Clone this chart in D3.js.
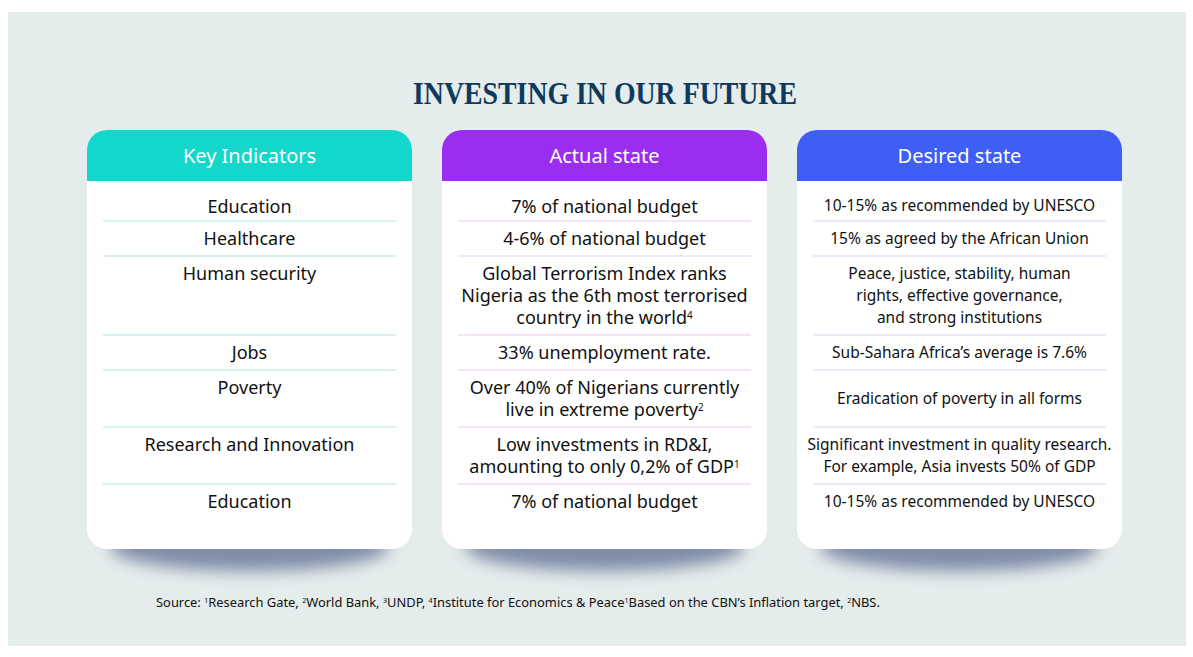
<!DOCTYPE html>
<html>
<head>
<meta charset="utf-8">
<script src="https://cdn.jsdelivr.net/npm/d3@7"></script>
<style>
  body { margin: 0; background: #fff; }
  svg { display: block; }
</style>
</head>
<body>
<div class="container"></div>
<script>
// column headers + colours
var headers = ["Key Indicators", "Actual state", "Desired state"];
var headerColors = ["#13d7cb", "#9b2df0", "#3f5ef5"];
var dividerColors = ["#c9ecea", "#eedcf7", "#dfe4fb"];

// table contents, one entry per row (lines split as in the picture)
var indicators = [
  ["Education"],
  ["Healthcare"],
  ["Human security"],
  ["Jobs"],
  ["Poverty"],
  ["Research and Innovation"],
  ["Education"]
];
var actualState = [
  ["7% of national budget"],
  ["4-6% of national budget"],
  ["Global Terrorism Index ranks", "Nigeria as the 6th most terrorised", "country in the world|4"],
  ["33% unemployment rate."],
  ["Over 40% of Nigerians currently", "live in extreme poverty|2"],
  ["Low investments in RD&I,", "amounting to only 0,2% of GDP|1"],
  ["7% of national budget"]
];
var desiredState = [
  ["10-15% as recommended by UNESCO"],
  ["15% as agreed by the African Union"],
  ["Peace, justice, stability, human", "rights, effective governance,", "and strong institutions"],
  ["Sub-Sahara Africa\u2019s average is 7.6%"],
  ["Eradication of poverty in all forms"],
  ["Significant investment in quality research.", "For example, Asia invests 50% of GDP"],
  ["10-15% as recommended by UNESCO"]
];
var title = "INVESTING IN OUR FUTURE";
var source = "Source: |1|Research Gate, |2|World Bank, |3|UNDP, |4|Institute for Economics & Peace|1|Based on the CBN\u2019s Inflation target, |2|NBS.";

var W = 1193, H = 657;
var svg = d3.select('.container').append('svg').attr('width', W).attr('height', H);

var defs = svg.append('defs');
defs.append('filter').attr('id', 'blur')
  .attr('x', '-50%').attr('y', '-100%').attr('width', '200%').attr('height', '300%')
  .append('feGaussianBlur').attr('stdDeviation', 8);

// panel
svg.append('rect').attr('x', 8).attr('y', 12).attr('width', 1178).attr('height', 634).attr('fill', '#e5ecec');

svg.append('text')
  .attr('x', 605).attr('y', 104)
  .attr('text-anchor', 'middle')
  .attr('font-family', 'Liberation Serif, serif')
  .attr('font-weight', 'bold')
  .attr('font-size', 31)
  .attr('textLength', 384).attr('lengthAdjust', 'spacingAndGlyphs')
  .attr('fill', '#0e3a5e')
  .text(title);

var cardX = d3.scaleBand().domain(d3.range(3)).range([87, 1122]).paddingInner(30 / 355).paddingOuter(0);
var cardTop = 130, headH = 51, cardBottom = 549, radius = 20;
var lineH = 22;
var cols = [indicators, actualState, desiredState];
var font = 'Noto Sans, Open Sans, sans-serif';

// row heights from line counts
var rowTops = [];
var y = cardTop + headH + 5;
indicators.forEach(function(d, i) {
  rowTops.push(i === 0 ? cardTop + headH : y);
  var n = d3.max(cols, function(c) { return c[i].length; });
  y += n * lineH + 13;
});

var rowY = d3.scaleOrdinal().domain(d3.range(indicators.length)).range(rowTops);

function writeLine(t, str, size) {
  var parts = str.split('|');
  parts.forEach(function(p, k) {
    if (p === '') return;
    var isSup = k % 2 === 1;
    t.append('tspan')
      .attr('font-size', isSup ? size * 0.55 : size)
      .attr('baseline-shift', isSup ? '55%' : null)
      .text(p);
  });
}

cols.forEach(function(col, ci) {
  var x0 = cardX(ci), w = cardX.bandwidth();
  var g = svg.append('g');

  g.append('ellipse')
    .attr('cx', x0 + w / 2).attr('cy', cardBottom - 2)
    .attr('rx', w * 0.43).attr('ry', 24)
    .attr('fill', '#6e7d9c').attr('opacity', 0.85)
    .attr('filter', 'url(#blur)');

  g.append('rect')
    .attr('x', x0).attr('y', cardTop).attr('width', w).attr('height', cardBottom - cardTop)
    .attr('rx', radius).attr('fill', '#fff');

  // header: rounded top, square bottom
  g.append('path')
    .attr('d', 'M' + x0 + ',' + (cardTop + headH) +
      'V' + (cardTop + radius) +
      'A' + radius + ',' + radius + ' 0 0 1 ' + (x0 + radius) + ',' + cardTop +
      'H' + (x0 + w - radius) +
      'A' + radius + ',' + radius + ' 0 0 1 ' + (x0 + w) + ',' + (cardTop + radius) +
      'V' + (cardTop + headH) + 'Z')
    .attr('fill', headerColors[ci]);

  g.append('text')
    .attr('x', x0 + w / 2).attr('y', cardTop + headH / 2 + 7)
    .attr('text-anchor', 'middle')
    .attr('font-family', font)
    .attr('font-size', 20)
    .attr('fill', '#fff')
    .text(headers[ci]);

  var size = ci === 2 ? 15.5 : 18;
  col.forEach(function(lines, ri) {
    var top = rowY(ri);
    var bottom = ri < col.length - 1 ? rowY(ri + 1) : top + 35;
    if (ri < col.length - 1) {
      g.append('line')
        .attr('x1', x0 + 16).attr('x2', x0 + w - 16)
        .attr('y1', bottom).attr('y2', bottom)
        .attr('stroke', dividerColors[ci]).attr('stroke-width', 1.3);
    }
    var pad = ri === 0 ? 8 : 0;
    var first;
    if (ci === 2) {
      first = (top + pad + bottom) / 2 - (lines.length - 1) * lineH / 2 + 5.5;
    } else {
      first = top + pad + 24;
    }
    lines.forEach(function(l, li) {
      var t = g.append('text')
        .attr('x', x0 + w / 2).attr('y', first + li * lineH)
        .attr('text-anchor', 'middle')
        .attr('font-family', font)
        .attr('fill', '#111');
      writeLine(t, l, size);
    });
  });
});

var s = svg.append('text').attr('x', 156).attr('y', 607)
  .attr('font-family', font).attr('fill', '#111');
writeLine(s, source, 12.9);
</script>
</body>
</html>
